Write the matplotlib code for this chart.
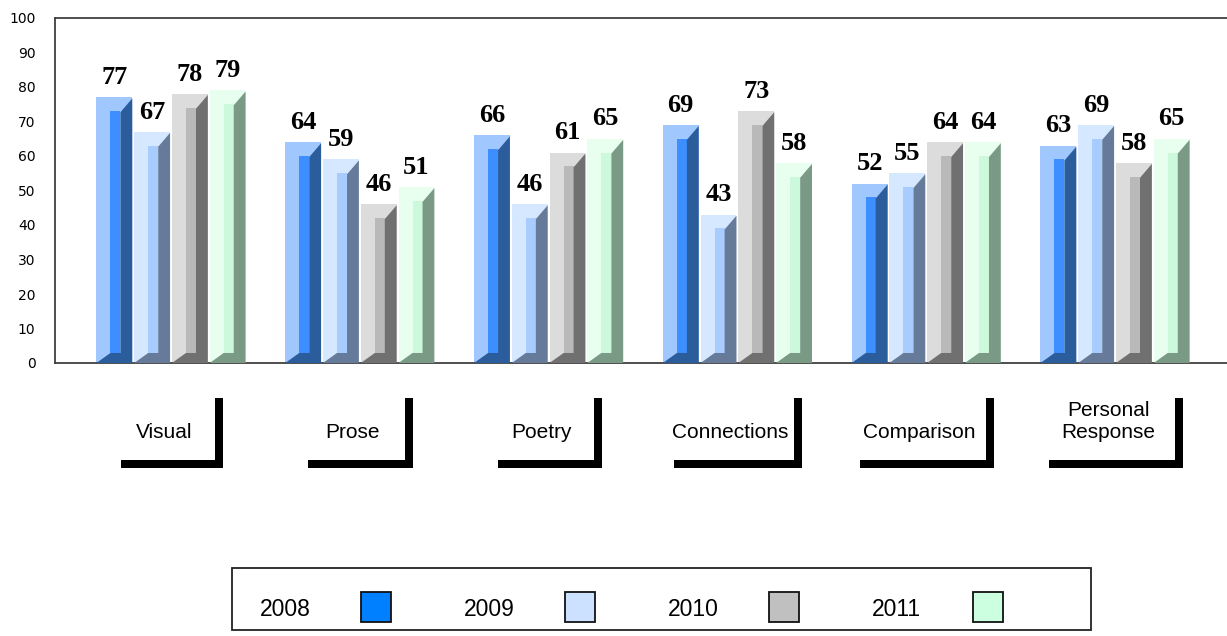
import matplotlib
matplotlib.use("Agg")
import matplotlib.pyplot as plt
from matplotlib.patches import Rectangle
import numpy as np

categories = ["Visual", "Prose", "Poetry", "Connections", "Comparison", "Personal\nResponse"]
years = ["2008", "2009", "2010", "2011"]
scores = {
    "2008": [77, 64, 66, 69, 52, 63],
    "2009": [67, 59, 46, 43, 55, 69],
    "2010": [78, 46, 61, 73, 64, 58],
    "2011": [79, 51, 65, 58, 64, 65],
}

# colours: light bevel, middle face, dark side, legend swatch
light = ["#a0c8ff", "#d6e8ff", "#dcdcdc", "#e8fff0"]
mid = ["#3d8eff", "#a9ccff", "#b9b9b9", "#ccf9dc"]
dark = ["#2b5c9c", "#667a99", "#707070", "#7a9a86"]
swatch = ["#0080ff", "#cce0ff", "#c0c0c0", "#ccffe0"]

W, H = 1227, 636
fig = plt.figure(figsize=(W / 100, H / 100), dpi=100)

# overlay in pixel coords for the label brackets and legend box
ov = fig.add_axes([0, 0, 1, 1])
ov.set_xlim(0, W)
ov.set_ylim(H, 0)
ov.axis("off")

ax = fig.add_axes([55 / W, (H - 363) / H, 1 - 55 / W, 345 / H])
ax.set_facecolor("none")

n = len(categories)
x = np.arange(n)
step = 0.2
w = 0.19
top_bev = 4.0
bot_bev = 2.9

for j, yr in enumerate(years):
    vals = np.array(scores[yr])
    xc = x + (j - 1.5) * step
    x0 = xc - w / 2
    ax.bar(x0, vals, width=w, align="edge", color=light[j], zorder=2)
    ax.bar(x0 + 0.39 * w, vals - top_bev - bot_bev, bottom=bot_bev, width=0.28 * w,
           align="edge", color=mid[j], zorder=3)
    for k in range(n):
        v = vals[k]
        px = [x0[k], x0[k] + 0.39 * w, x0[k] + 0.67 * w, x0[k] + 0.67 * w,
              x0[k] + w, x0[k] + w]
        py = [0, bot_bev, bot_bev, v - top_bev - 0.3, v - 0.3, 0]
        ax.fill(px, py, color=dark[j], lw=0, zorder=4)
        ax.text(xc[k], v + 2.4, str(v), ha="center", va="bottom",
                family="Liberation Serif", fontweight="bold", fontsize=19, zorder=5)

ax.set_xlim(-0.6144, 5.593)
ax.set_ylim(0, 100)
ax.set_yticks(np.arange(0, 101, 10))
ax.set_xticks([])
ax.tick_params(axis="y", length=0, pad=14, labelsize=10)
for t in ax.get_yticklabels():
    t.set_family("DejaVu Sans")
ax.spines["right"].set_visible(False)
for s in ["left", "top", "bottom"]:
    ax.spines[s].set_color("#404040")
    ax.spines[s].set_linewidth(1.3)

# category labels with L-shaped brackets
bracket_w = [102, 105, 104, 128, 134, 134]
for i, cat in enumerate(categories):
    gx = ax.transData.transform((i, 0))[0]
    ov.text(gx - 7, 442, cat, ha="center", va="bottom", family="Liberation Sans",
            fontsize=15, linespacing=1.2)
    left = gx + 1 - bracket_w[i] / 2
    right = gx + 1 + bracket_w[i] / 2
    ov.add_patch(Rectangle((left, 460), bracket_w[i], 8, color="black", lw=0))
    ov.add_patch(Rectangle((right - 8, 398), 8, 70, color="black", lw=0))

# legend
ov.add_patch(Rectangle((232, 568), 1091 - 232, 62, fill=False, ec="#222222", lw=1.3))
for j, yr in enumerate(years):
    lx = 260 + 204 * j
    ov.text(lx, 609, yr, ha="left", va="center", family="Liberation Sans", fontsize=16.5)
    ov.add_patch(Rectangle((lx + 101, 592), 30, 30, fc=swatch[j], ec="#111111", lw=1.3))

fig.savefig("out.png", dpi=100)
